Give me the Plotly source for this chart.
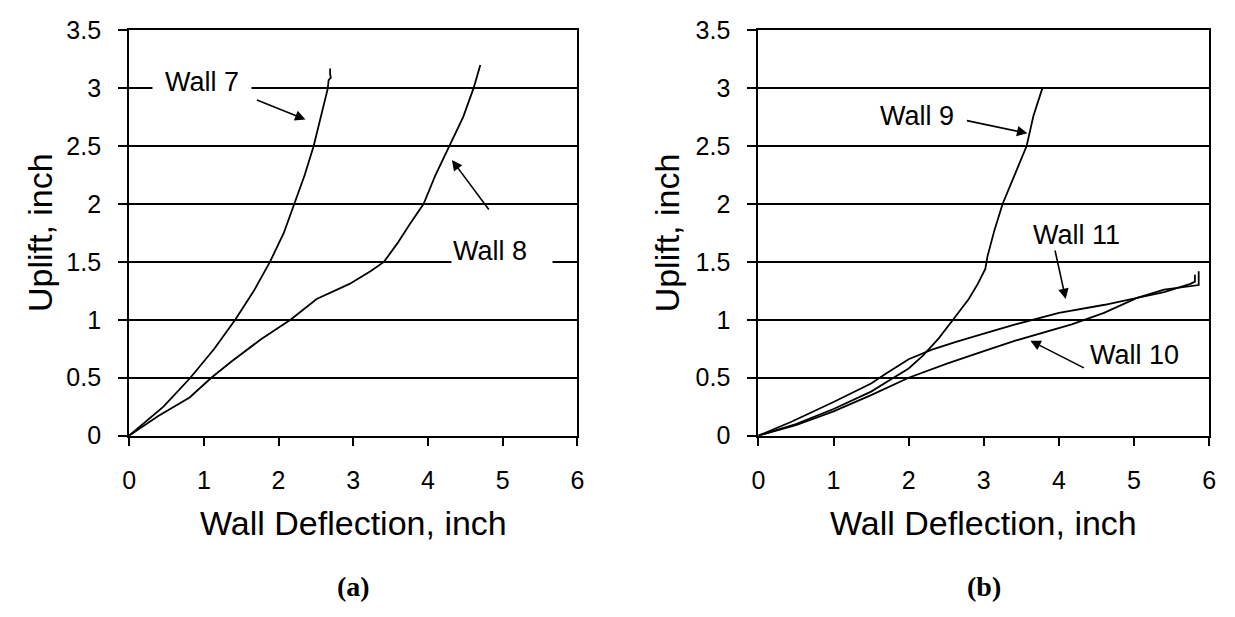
import plotly.graph_objects as go

# ---- measured uplift vs. wall deflection (inch) ----
wall7_x = [0, 0.17, 0.46, 0.82, 1.14, 1.42, 1.67, 1.885, 2.07, 2.21, 2.35, 2.47, 2.57, 2.66, 2.67, 2.70, 2.69, 2.69]
wall7_y = [0, 0.09, 0.25, 0.50, 0.75, 1.00, 1.25, 1.50, 1.75, 2.00, 2.25, 2.50, 2.75, 3.00, 3.07, 3.09, 3.12, 3.17]

wall8_x = [0, 0.39, 0.81, 1.10, 1.37, 1.76, 2.16, 2.51, 2.95, 3.23, 3.41, 3.59, 3.76, 3.94, 4.10, 4.29, 4.47, 4.61, 4.70]
wall8_y = [0, 0.17, 0.33, 0.50, 0.64, 0.83, 1.00, 1.18, 1.31, 1.42, 1.50, 1.66, 1.83, 2.00, 2.25, 2.50, 2.75, 3.00, 3.20]

wall9_x = [0, 0.5, 1.0, 1.5, 1.75, 2.0, 2.19, 2.4, 2.59, 2.8, 2.92, 3.02, 3.05, 3.14, 3.25, 3.42, 3.57, 3.66, 3.78]
wall9_y = [0, 0.10, 0.23, 0.38, 0.48, 0.58, 0.69, 0.84, 1.00, 1.18, 1.31, 1.44, 1.55, 1.77, 2.00, 2.27, 2.50, 2.76, 3.00]

wall10_x = [0, 0.5, 1.0, 1.5, 2.0, 2.5, 3.0, 3.42, 4.17, 4.6, 5.04, 5.4, 5.86, 5.86]
wall10_y = [0, 0.09, 0.21, 0.35, 0.50, 0.62, 0.73, 0.82, 0.96, 1.06, 1.19, 1.26, 1.30, 1.42]

wall11_x = [0, 0.44, 1.0, 1.5, 1.71, 2.0, 2.3, 2.63, 3.0, 3.42, 4.0, 4.61, 5.04, 5.4, 5.75, 5.81, 5.81]
wall11_y = [0, 0.12, 0.29, 0.45, 0.54, 0.66, 0.74, 0.81, 0.88, 0.96, 1.06, 1.13, 1.19, 1.24, 1.31, 1.33, 1.39]

x_ticks = [0, 1, 2, 3, 4, 5, 6]
y_ticks = [0, 0.5, 1, 1.5, 2, 2.5, 3, 3.5]

SANS = "Liberation Sans, Arial, sans-serif"
SERIF = "Liberation Serif, Times New Roman, serif"
W, H = 1235, 617

fig = go.Figure()
line = dict(color="black", width=1.8)
fig.add_trace(go.Scatter(x=wall7_x, y=wall7_y, mode="lines", line=line, xaxis="x", yaxis="y"))
fig.add_trace(go.Scatter(x=wall8_x, y=wall8_y, mode="lines", line=line, xaxis="x", yaxis="y"))
fig.add_trace(go.Scatter(x=wall9_x, y=wall9_y, mode="lines", line=line, xaxis="x2", yaxis="y2"))
fig.add_trace(go.Scatter(x=wall10_x, y=wall10_y, mode="lines", line=line, xaxis="x2", yaxis="y2"))
fig.add_trace(go.Scatter(x=wall11_x, y=wall11_y, mode="lines", line=line, xaxis="x2", yaxis="y2"))

# plot-area placement in pixels
L1, R1 = 123.5, 577.0
L2, R2 = 760.0, 1216.0
TOP, BOT = 17.0, 441.7
ydom = [(H - BOT) / H, (H - TOP) / H]

def xaxis(dom, anchor):
    return dict(domain=dom, anchor=anchor, range=[0, 6], tickvals=x_ticks,
                showgrid=False, zeroline=False, showline=True, linecolor="black",
                linewidth=2, mirror=True, ticks="outside", ticklen=8, tickwidth=2,
                tickcolor="black", ticklabelstandoff=13,
                tickfont=dict(family=SANS, size=25, color="black"))

def yaxis(anchor):
    return dict(domain=ydom, anchor=anchor, range=[0, 3.5], tickvals=y_ticks,
                showgrid=True, gridcolor="black", gridwidth=2, zeroline=False,
                showline=True, linecolor="black", linewidth=2, mirror=True,
                ticks="outside", ticklen=9, tickwidth=2, tickcolor="black",
                ticklabelstandoff=12,
                tickfont=dict(family=SANS, size=25, color="black"))

ann = []
font_ax = dict(family=SANS, size=34, color="black")
font_lbl = dict(family=SANS, size=27, color="black")

for cx, lab, ycx in [((L1 + R1) / 2, "(a)", L1 - 90), ((L2 + R2) / 2, "(b)", L2 - 92)]:
    ann.append(dict(text="Wall Deflection, inch", x=cx / W, y=(H - 533) / H, xref="paper",
                    yref="paper", showarrow=False, font=font_ax, xanchor="center", yanchor="middle"))
    ann.append(dict(text="Uplift, inch", x=ycx / W, y=(H - (TOP + BOT) / 2) / H, xref="paper",
                    yref="paper", showarrow=False, font=font_ax, textangle=-90,
                    xanchor="center", yanchor="middle"))
    ann.append(dict(text="<b>%s</b>" % lab, x=cx / W, y=(H - 600) / H, xref="paper",
                    yref="paper", showarrow=False, xanchor="center", yanchor="middle",
                    font=dict(family=SERIF, size=28, color="black")))

def label(text, x, y, xr, yr, **kw):
    d = dict(text=text, x=x, y=y, xref=xr, yref=yr, showarrow=False, font=font_lbl,
             xanchor="center", yanchor="middle")
    d.update(kw)
    ann.append(d)

def arrow(x, y, ax, ay, xr, yr):
    ann.append(dict(text="", x=x, y=y, ax=ax, ay=ay, xref=xr, yref=yr, showarrow=True,
                    arrowhead=2, arrowsize=1.3, arrowwidth=1.6, arrowcolor="black"))

# curve labels and pointers
label("Wall 7", 0.97, 3.05, "x", "y", bgcolor="white", width=96, height=26)
arrow(2.36, 2.73, -50, -20, "x", "y")
label("Wall 8", 4.99, 1.59, "x", "y", bgcolor="white", width=98, height=30,
      align="left", valign="top")
arrow(4.32, 2.38, 38, 51, "x", "y")

label("Wall 9", 2.11, 2.76, "x2", "y2")
arrow(3.58, 2.61, -62, -13, "x2", "y2")
label("Wall 11", 4.24, 1.73, "x2", "y2")
arrow(4.09, 1.18, -11, -50, "x2", "y2")
label("Wall 10", 5.0, 0.70, "x2", "y2")
arrow(3.62, 0.82, 55, 28, "x2", "y2")

fig.update_layout(
    width=W, height=H, margin=dict(l=0, r=0, t=0, b=0),
    paper_bgcolor="white", plot_bgcolor="white", showlegend=False,
    xaxis=xaxis([L1 / W, R1 / W], "y"), yaxis=yaxis("x"),
    xaxis2=xaxis([L2 / W, R2 / W], "y2"), yaxis2=yaxis("x2"),
    annotations=ann,
)

fig.write_html("out.html")
